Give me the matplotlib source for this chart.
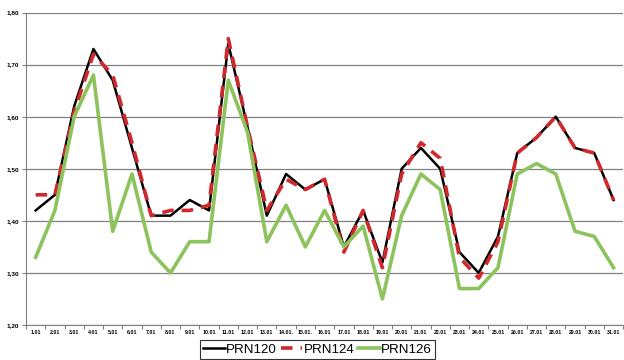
import matplotlib
matplotlib.use('Agg')
import matplotlib.pyplot as plt
import numpy as np

plt.rcParams['font.family'] = ['Liberation Sans', 'DejaVu Sans']

# dates along the x axis
days = ['1.01', '2.01', '3.01', '4.01', '5.01', '6.01', '7.01', '8.01', '9.01', '10.01',
        '11.01', '12.01', '13.01', '14.01.', '15.01.', '16.01', '17.01', '18.01', '19.01',
        '20.01', '21.01', '22.01', '23.01', '24.01', '25.01', '26.01', '27.01', '28.01',
        '29.01', '30.01', '31.01']

prn120 = [1.42, 1.45, 1.62, 1.73, 1.67, 1.54, 1.41, 1.41, 1.44, 1.42,
          1.74, 1.58, 1.41, 1.49, 1.46, 1.48, 1.35, 1.42, 1.32,
          1.50, 1.54, 1.50, 1.34, 1.30, 1.37, 1.53, 1.56, 1.60, 1.54, 1.53, 1.44]
prn124 = [1.45, 1.45, 1.61, 1.72, 1.68, 1.55, 1.41, 1.42, 1.42, 1.43,
          1.75, 1.58, 1.42, 1.48, 1.46, 1.48, 1.34, 1.42, 1.31,
          1.49, 1.55, 1.52, 1.33, 1.29, 1.36, 1.53, 1.56, 1.60, 1.54, 1.53, 1.44]
prn126 = [1.33, 1.42, 1.60, 1.68, 1.38, 1.49, 1.34, 1.30, 1.36, 1.36,
          1.67, 1.57, 1.36, 1.43, 1.35, 1.42, 1.35, 1.39, 1.25,
          1.41, 1.49, 1.46, 1.27, 1.27, 1.31, 1.49, 1.51, 1.49, 1.38, 1.37, 1.31]

yticks = [1.20, 1.30, 1.40, 1.50, 1.60, 1.70, 1.80]

fig = plt.figure(figsize=(6.24, 3.6), dpi=100)
ax = fig.add_axes([0.0417, 0.0972, 0.957, 0.868])

x = np.arange(len(days))
ax.plot(x, prn120, color='black', lw=1.8, label='PRN120')
ax.plot(x, prn124, color='#d0282c', lw=2.6, dashes=(3.2, 2.2), label='PRN124')
ax.plot(x, prn126, color='#8dc35c', lw=2.6, label='PRN126')

ax.set_xlim(-0.5, len(days) - 0.5)
ax.set_ylim(1.20, 1.80)
ax.set_yticks(yticks)
ax.set_yticklabels([('%.2f' % v).replace('.', ',') for v in yticks],
                   fontsize=4.6, fontweight='bold')
ax.set_xticks(x)
ax.set_xticklabels(days, fontsize=3.8, fontweight='bold')
ax.set_xticks(np.arange(len(days) + 1) - 0.5, minor=True)
ax.tick_params(axis='x', which='major', length=0, pad=3.5)
ax.tick_params(axis='x', which='minor', length=3, width=0.8, color='#808080')
ax.tick_params(axis='y', length=3, width=0.8, color='#808080', pad=2)

ax.grid(axis='y', color='#808080', lw=0.9)
ax.set_axisbelow(True)
for side in ['top', 'right']:
    ax.spines[side].set_visible(False)
ax.spines['left'].set_color('#808080')
ax.spines['bottom'].set_color('#808080')

leg = fig.legend(loc='upper left', bbox_to_anchor=(200 / 624, 1 - 340 / 360),
                 ncol=3, fontsize=9.6, frameon=True, fancybox=False,
                 handlelength=1.6, handletextpad=0.1, columnspacing=0.3,
                 borderpad=0.25, borderaxespad=0)
leg.get_frame().set_edgecolor('black')
leg.get_frame().set_linewidth(0.8)

fig.savefig('out.png', dpi=100)
